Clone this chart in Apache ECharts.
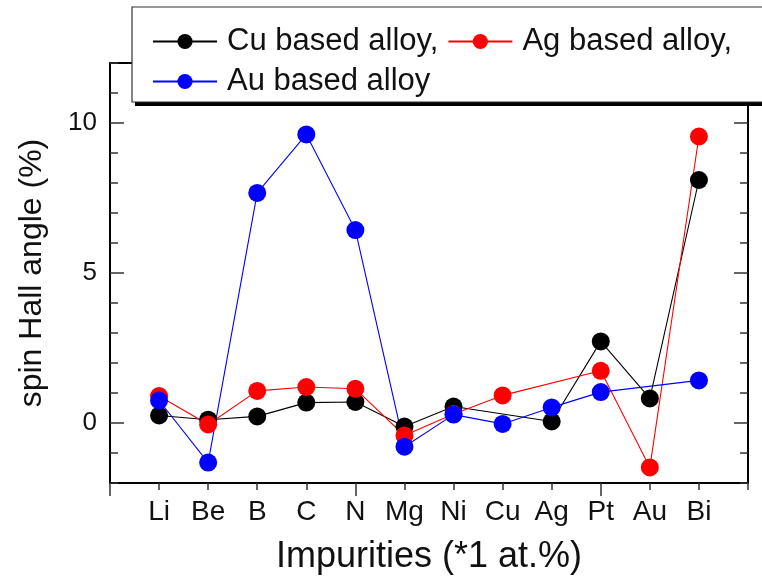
<!DOCTYPE html>
<html>
<head>
<meta charset="utf-8">
<script src="https://cdn.jsdelivr.net/npm/echarts@6/dist/echarts.min.js"></script>
<style>html,body{margin:0;padding:0;background:#fff}#c{width:762px;height:580px}</style>
</head>
<body>
<div id="c"></div>
<script>
const categories = ['Li','Be','B','C','N','Mg','Ni','Cu','Ag','Pt','Au','Bi'];
const cuAlloy = [0.25, 0.11, 0.22, 0.68, 0.70, -0.12, 0.55, null, 0.05, 2.72, 0.82, 8.10];
const agAlloy = [0.90, -0.05, 1.07, 1.20, 1.14, -0.42, 0.30, 0.92, null, 1.74, -1.48, 9.55];
const auAlloy = [0.75, -1.32, 7.67, 9.62, 6.43, -0.79, 0.28, -0.03, 0.52, 1.03, null, 1.42];
const seriesNames = ['Cu based alloy,', 'Ag based alloy,', 'Au based alloy'];
const yLabels = [0, 5, 10];

const FONT = '"Liberation Sans", Arial, sans-serif';
const toPoints = arr => arr.map((v, i) => [i + 1, v]);

const chart = echarts.init(document.getElementById('c'), null, {renderer: 'canvas'});
const axisLineStyle = {color: '#000', width: 2};
const tickStyle = {color: '#333', width: 1.5};

const mkSeries = (name, data, color) => ({
  name: name, type: 'line', data: toPoints(data), connectNulls: true,
  xAxisIndex: 0, yAxisIndex: 0,
  symbol: 'circle', symbolSize: 18,
  itemStyle: {color: color},
  lineStyle: {color: color, width: 1.1},
  emphasis: {disabled: true}, animation: false
});

chart.setOption({
  animation: false,
  grid: {left: 110, right: 14, top: 63, bottom: 96, containLabel: false},
  xAxis: [
    {type: 'value', position: 'bottom', min: 0, max: 13, interval: 1,
     axisLine: {show: true, onZero: false, lineStyle: axisLineStyle},
     axisTick: {show: true, inside: false, length: 7, lineStyle: tickStyle},
     axisLabel: {show: true, margin: 15, fontSize: 28, color: '#111', fontFamily: FONT,
       formatter: v => categories[v - 1] || ''},
     splitLine: {show: false},
     name: 'Impurities (*1 at.%)', nameLocation: 'middle', nameGap: 56,
     nameTextStyle: {fontSize: 36, color: '#111', fontFamily: FONT}},
    {type: 'value', position: 'bottom', min: 0, max: 13,
     axisLine: {show: false, onZero: false},
     axisTick: {show: true, inside: false, length: 13, lineStyle: tickStyle, customValues: [0, 5, 10]},
     axisLabel: {show: false}, splitLine: {show: false}},
    {type: 'value', position: 'top', min: 0, max: 13,
     axisLine: {show: true, onZero: false, lineStyle: axisLineStyle},
     axisTick: {show: false}, axisLabel: {show: false}, splitLine: {show: false}}
  ],
  yAxis: [
    {type: 'value', position: 'left', min: -2, max: 12, interval: 1,
     axisLine: {show: true, onZero: false, lineStyle: axisLineStyle},
     axisTick: {show: true, inside: true, length: 8, lineStyle: tickStyle},
     axisLabel: {show: true, margin: 13, fontSize: 26, color: '#111', fontFamily: FONT,
       formatter: v => (yLabels.indexOf(v) >= 0 ? String(v) : '')},
     splitLine: {show: false},
     name: 'spin Hall angle (%)', nameLocation: 'middle', nameGap: 62,
     nameTextStyle: {fontSize: 32, color: '#111', fontFamily: FONT}},
    {type: 'value', position: 'left', min: -2, max: 12,
     axisLine: {show: false, onZero: false},
     axisTick: {show: true, inside: true, length: 14, lineStyle: tickStyle, customValues: yLabels},
     axisLabel: {show: false}, splitLine: {show: false}},
    {type: 'value', position: 'right', min: -2, max: 12, interval: 1,
     axisLine: {show: true, onZero: false, lineStyle: axisLineStyle},
     axisTick: {show: true, inside: true, length: 8, lineStyle: tickStyle},
     axisLabel: {show: false}, splitLine: {show: false}},
    {type: 'value', position: 'right', min: -2, max: 12,
     axisLine: {show: false, onZero: false},
     axisTick: {show: true, inside: true, length: 14, lineStyle: tickStyle, customValues: yLabels},
     axisLabel: {show: false}, splitLine: {show: false}}
  ],
  legend: {
    show: true, z: 30, left: 152, top: 26, width: 600, padding: 0,
    itemGap: 9, itemWidth: 64, itemHeight: 19,
    data: seriesNames,
    textStyle: {fontSize: 31, color: '#111', fontFamily: FONT, padding: [0, 7, 0, 5]}
  },
  graphic: [
    {type: 'rect', z: 10, shape: {x: 135, y: 11, width: 700, height: 95}, style: {fill: '#000'}},
    {type: 'rect', z: 11, shape: {x: 132, y: 7, width: 700, height: 95}, style: {fill: '#fff', stroke: '#333', lineWidth: 1.2}}
  ],
  series: [
    mkSeries(seriesNames[0], cuAlloy, '#000000'),
    mkSeries(seriesNames[1], agAlloy, '#ff0000'),
    mkSeries(seriesNames[2], auAlloy, '#0000ff')
  ]
});
</script>
</body>
</html>
